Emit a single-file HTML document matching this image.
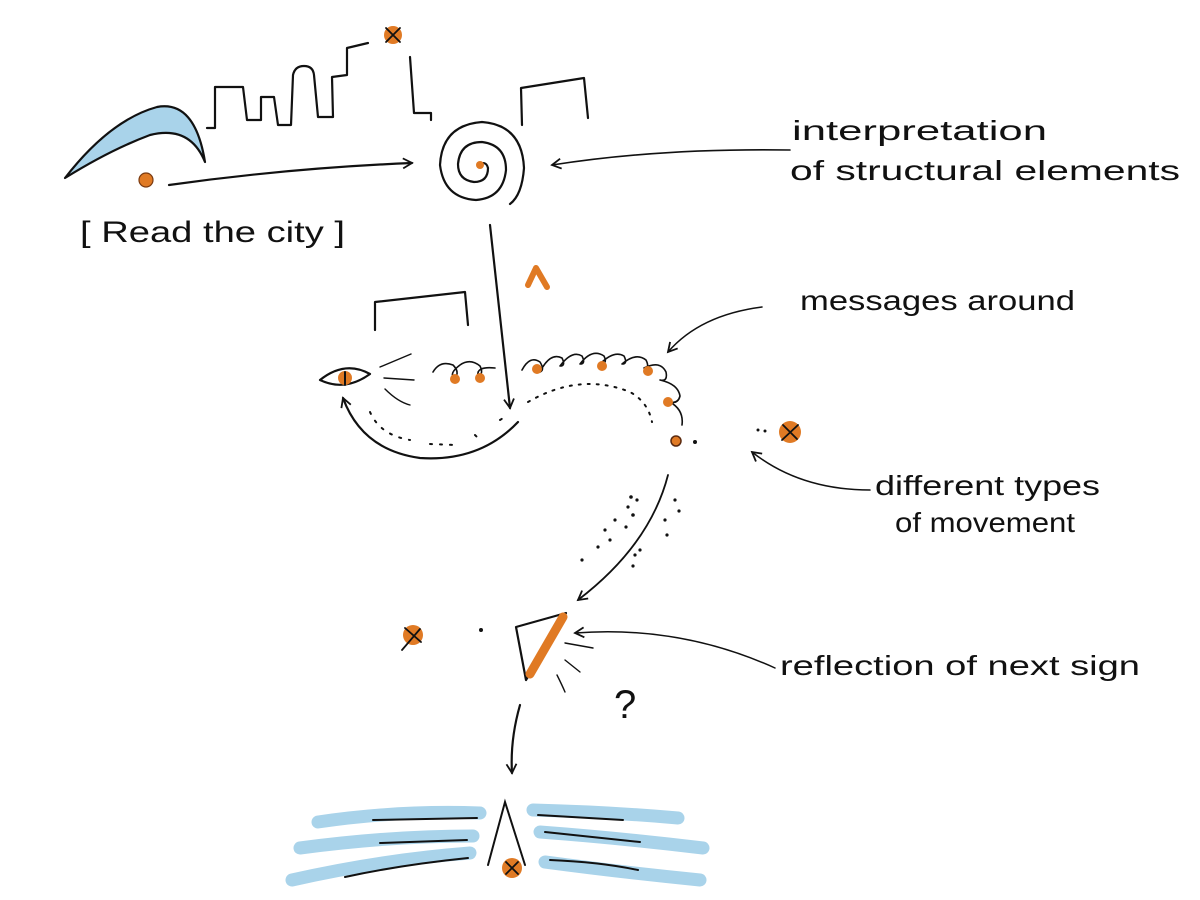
<!DOCTYPE html>
<html><head><meta charset="utf-8"><style>
html,body{margin:0;padding:0;background:#fff;}
svg{display:block;}
text{font-family:"Liberation Sans",sans-serif;fill:#111;}
</style></head><body>
<svg width="1200" height="900" viewBox="0 0 1200 900" xmlns="http://www.w3.org/2000/svg">
<defs>
<marker id="ah" viewBox="0 0 12 12" refX="10" refY="6" markerWidth="12" markerHeight="12" markerUnits="userSpaceOnUse" orient="auto">
<path d="M1,1 L10,6 L1,11" fill="none" stroke="#111" stroke-width="1.8"/>
</marker>
</defs>
<g fill="none" stroke="#111" stroke-width="2.2" stroke-linecap="round" stroke-linejoin="round">
<!-- boomerang -->
<path d="M65,178 Q110,120 157,107 Q195,100 205,162 Q190,125 150,135 Q110,150 65,178 Z" fill="#a9d3ea"/>
<!-- skyline -->
<path d="M207,128 L215,128 L215,87 L243,87 L247,120 L261,120 L261,97 L274,97 L278,125 L291,125 L293,75 Q295,66 304,66 Q313,66 314,75 L318,117 L333,117 L332,77 L347,75 L347,48 L368,43"/>
<path d="M410,57 L414,113 L431,113 L431,120"/>
<!-- building 2 -->
<path d="M522,125 L521,88 L584,78 L588,118"/>
<!-- spiral -->
<path d="M478,165 Q486,160 488,168 Q488,182 474,182 Q458,180 458,164 Q460,142 482,142 Q506,145 506,170 Q503,198 476,200 Q444,198 440,165 Q442,125 482,122 Q522,125 524,168 Q522,195 510,204"/>
<!-- arrow read -> spiral -->
<path d="M169,185 Q290,168 412,163" marker-end="url(#ah)"/>
<!-- interpretation arrow -->
<path d="M790,150 Q660,148 552,165" stroke-width="1.6" marker-end="url(#ah)"/>
<!-- vertical arrow -->
<path d="M490,225 Q500,320 510,408" marker-end="url(#ah)"/>
<!-- building 3 -->
<path d="M375,330 L375,302 L465,292 L468,325"/>
<!-- eye -->
<path d="M320,380 Q345,360 370,374 Q345,392 320,380 Z"/>
<path d="M380,367 L411,354 M384,378 L414,380 M385,389 Q398,402 410,405" stroke-width="1.4"/>
<!-- small loops -->
<path d="M433,372 Q440,360 453,365 Q460,372 455,378 Q448,374 460,365 Q470,358 480,366 Q484,374 478,376 Q476,366 495,368" stroke-width="1.6"/>
<!-- big loop chain -->
<path d="M522,370 Q530,355 540,362 Q545,370 540,372 Q550,352 562,358 Q566,366 560,366 Q572,350 582,356 Q586,364 580,364 Q592,348 604,356 Q608,364 600,364 Q614,350 624,356 Q628,364 622,364 Q636,352 646,360 Q650,368 644,368 Q660,360 666,372 Q668,382 660,380 Q678,384 680,396 Q678,404 670,402 Q684,410 682,425" stroke-width="1.6"/>
<!-- dashes arc -->
<path d="M528,402 Q580,372 630,392 Q648,402 652,422" stroke-width="2" stroke-dasharray="2 7"/>
<!-- bottom arc arrow -->
<path d="M518,422 Q480,462 420,458 Q362,450 343,398" marker-end="url(#ah)"/>
<path d="M370,412 Q380,435 410,440 M430,444 L455,445 M475,435 L480,440 M500,420 L508,415" stroke-width="2" stroke-dasharray="2 8"/>
<!-- messages arrow -->
<path d="M762,307 Q700,315 668,352" stroke-width="1.5" marker-end="url(#ah)"/>
<!-- movement arrow -->
<path d="M870,490 Q800,490 752,452" stroke-width="1.5" marker-end="url(#ah)"/>
<!-- curved arrow down-left -->
<path d="M668,475 Q650,545 578,600" stroke-width="1.8" marker-end="url(#ah)"/>
<!-- triangle -->
<path d="M516,627 L566,613 L526,680 Z"/>
<path d="M563,617 L530,674" stroke="#e07a24" stroke-width="9"/>
<path d="M565,643 L593,648 M565,660 L580,672 M557,675 Q562,685 565,692" stroke-width="1.4"/>
<!-- reflection arrow -->
<path d="M775,668 Q680,625 575,633" stroke-width="1.5" marker-end="url(#ah)"/>
<!-- down arrow -->
<path d="M520,705 Q510,740 512,773" marker-end="url(#ah)"/>
</g>
<!-- scattered dots -->
<g fill="#111">
<circle cx="631" cy="497" r="1.8"/><circle cx="637" cy="500" r="1.6"/><circle cx="628" cy="507" r="1.6"/><circle cx="633" cy="515" r="1.8"/><circle cx="615" cy="520" r="1.6"/><circle cx="626" cy="527" r="1.6"/><circle cx="605" cy="530" r="1.6"/><circle cx="610" cy="540" r="1.6"/><circle cx="598" cy="547" r="1.6"/><circle cx="582" cy="560" r="1.6"/><circle cx="635" cy="555" r="1.6"/><circle cx="633" cy="566" r="1.6"/><circle cx="675" cy="500" r="1.6"/><circle cx="679" cy="511" r="1.6"/><circle cx="665" cy="520" r="1.6"/><circle cx="667" cy="535" r="1.6"/><circle cx="640" cy="550" r="1.6"/>
<circle cx="695" cy="442" r="2"/><circle cx="758" cy="430" r="1.5"/><circle cx="765" cy="431" r="1.5"/><circle cx="481" cy="630" r="2"/>
</g>
<!-- orange elements -->
<g fill="#e07a24">
<circle cx="146" cy="180" r="7" stroke="#7a3a10" stroke-width="1.2"/>
<circle cx="393" cy="35" r="9"/>
<circle cx="480" cy="165" r="4"/>
<circle cx="345" cy="378" r="7"/>
<circle cx="455" cy="379" r="5"/><circle cx="480" cy="378" r="5"/>
<circle cx="537" cy="369" r="5"/><circle cx="602" cy="366" r="5"/><circle cx="648" cy="371" r="5"/><circle cx="668" cy="402" r="5"/>
<circle cx="676" cy="441" r="5" stroke="#5a2a10" stroke-width="1.5"/>
<circle cx="790" cy="432" r="11"/>
<circle cx="413" cy="635" r="10"/>
<circle cx="512" cy="868" r="10"/>
</g>
<path d="M536,268 L528,285 M536,268 L547,287" stroke="#e07a24" stroke-width="6" stroke-linecap="round" fill="none"/>
<g stroke="#111" stroke-width="1.8" fill="none" stroke-linecap="round">
<path d="M386,28 L400,42 M400,28 L386,42"/>
<path d="M783,425 L797,439 M798,425 L782,440"/>
<path d="M405,628 L421,642 M420,629 L402,650"/>
<path d="M506,862 L518,874 M518,862 L506,874"/>
<path d="M345,372 L345,385" stroke-width="2"/>
</g>
<!-- bottom blue strokes -->
<g stroke="#a9d3ea" stroke-width="13" stroke-linecap="round" fill="none">
<path d="M318,822 Q400,810 480,813"/><path d="M300,848 Q390,836 473,836"/><path d="M292,880 Q380,860 470,853"/>
<path d="M533,810 Q610,812 678,818"/><path d="M540,832 Q620,838 703,848"/><path d="M545,862 Q620,872 700,880"/>
</g>
<g stroke="#111" stroke-width="2" fill="none" stroke-linecap="round">
<path d="M373,820 L477,818"/><path d="M380,843 L467,840"/><path d="M345,877 Q400,865 468,858"/>
<path d="M538,815 L623,820"/><path d="M545,832 L640,842"/><path d="M550,860 Q600,862 638,870"/>
<path d="M488,865 L505,802 L525,865"/>
</g>
<!-- texts -->
<text x="80" y="242" font-size="30" textLength="265" lengthAdjust="spacingAndGlyphs">[ Read the city ]</text>
<text x="792" y="140" font-size="28" textLength="255" lengthAdjust="spacingAndGlyphs">interpretation</text>
<text x="790" y="180" font-size="28" textLength="390" lengthAdjust="spacingAndGlyphs">of structural elements</text>
<text x="800" y="310" font-size="28" textLength="275" lengthAdjust="spacingAndGlyphs">messages around</text>
<text x="875" y="495" font-size="28" textLength="225" lengthAdjust="spacingAndGlyphs">different types</text>
<text x="895" y="532" font-size="28" textLength="180" lengthAdjust="spacingAndGlyphs">of movement</text>
<text x="780" y="675" font-size="28" textLength="360" lengthAdjust="spacingAndGlyphs">reflection of next sign</text>
<text x="614" y="718" font-size="40">?</text>
</svg>
</body></html>
